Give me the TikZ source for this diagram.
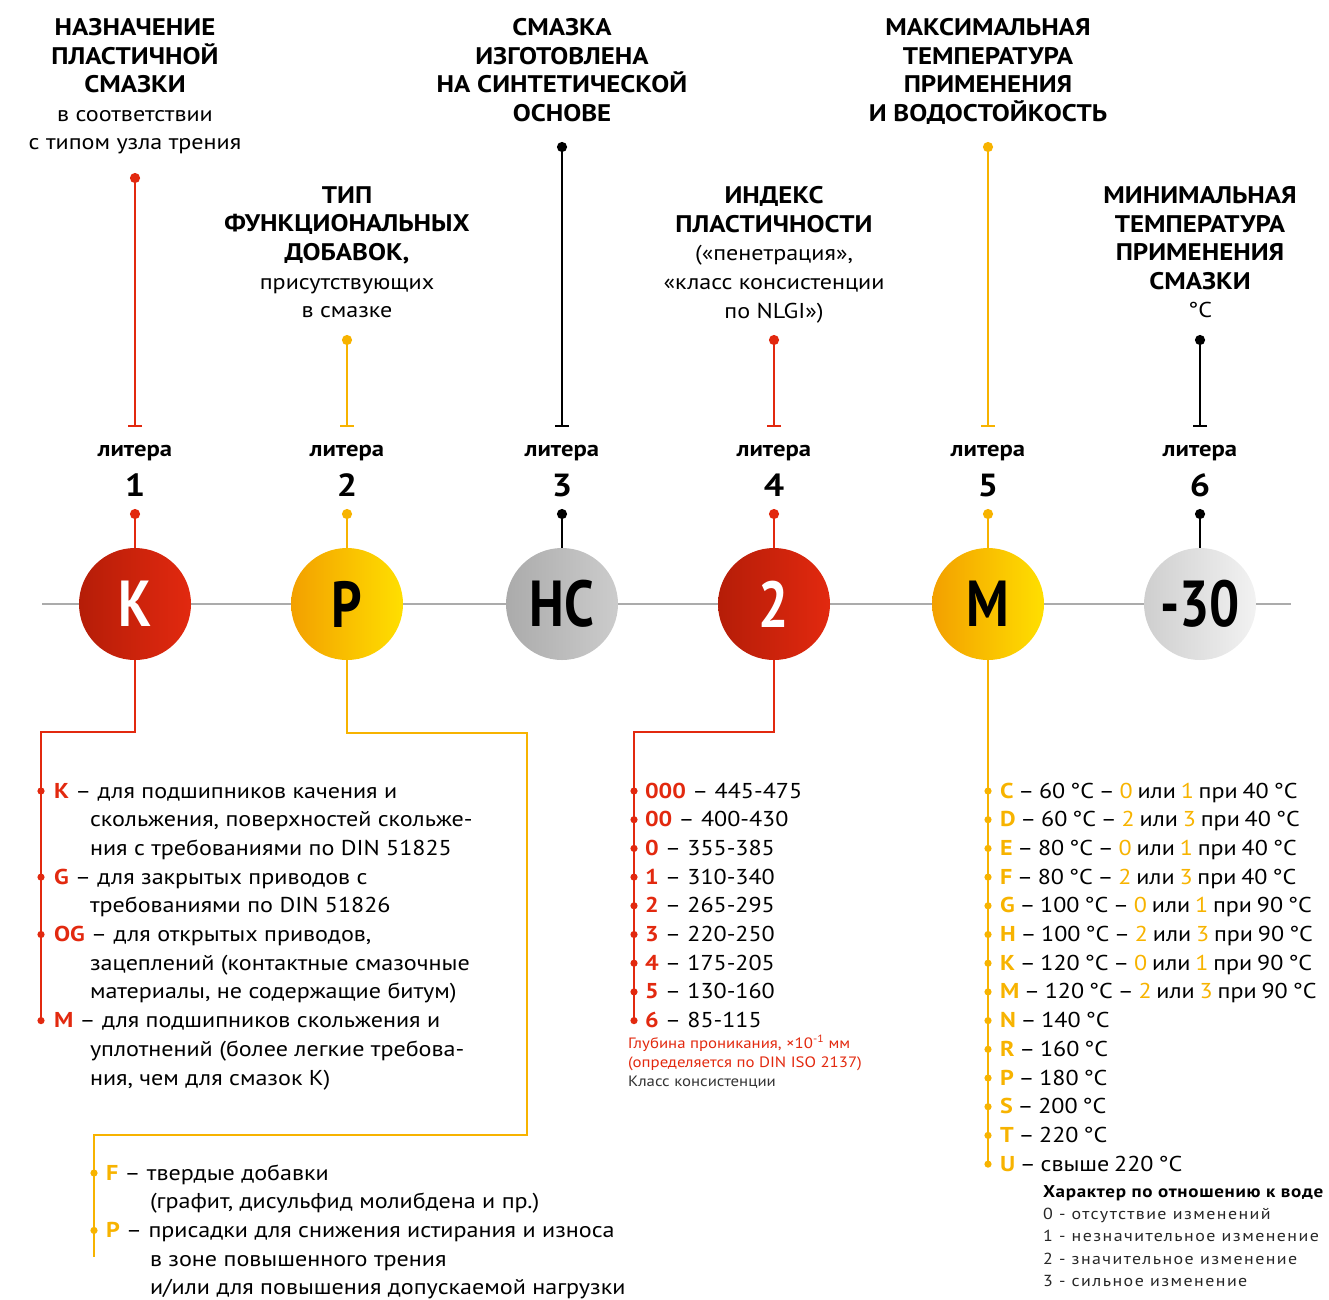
\documentclass[tikz,border=0pt]{standalone}
\usepackage{fontspec}
\setmainfont[FakeStretch=1.12]{PT Sans}
\newfontfamily\ballf[FakeStretch=0.82]{PT Sans}
\newfontfamily\tightf[FakeStretch=1.12, WordSpace=0.75]{PT Sans}
\usetikzlibrary{arrows.meta}
\definecolor{kred}{HTML}{E2290F}
\definecolor{kdred}{HTML}{B51D08}
\definecolor{kyel}{HTML}{F7B300}
\definecolor{kdyel}{HTML}{F3A000}
\definecolor{klyel}{HTML}{FFDF00}
\definecolor{kline}{HTML}{ABABAB}
\newcommand\lr[1]{\textcolor{kred}{\bfseries #1}}
\newcommand\ly[1]{\textcolor{kyel}{\bfseries #1}}
\newcommand\yd[1]{\textcolor{kyel}{#1}}
\newcommand\sub[1]{{\mdseries\fontsize{21.5}{28.6}\selectfont #1}}

\begin{document}
\begin{tikzpicture}[
  x=1pt, y=-1pt,
  every node/.style={inner sep=0pt, outer sep=0pt},
  head/.style={font=\bfseries\fontsize{24}{28.6}\selectfont, align=center, anchor=north},
  lit/.style={font=\bfseries\fontsize{22}{22}\selectfont, anchor=base},
  num/.style={font=\bfseries\fontsize{32}{32}\selectfont, anchor=base},
  ball/.style={circle, minimum size=112pt, font=\ballf\bfseries\fontsize{65}{65}\selectfont},
  stem/.style={line width=2.4pt, {Circle[length=10pt]}-{Bar[width=14pt]}},
  pin/.style={line width=2.4pt, {Circle[length=10pt]}-},
  wire/.style={line width=2.4pt},
  entry/.style={font=\fontsize{21.5}{21.5}\selectfont, anchor=base west},
  tight/.style={font=\tightf\fontsize{21.5}{21.5}\selectfont},
  note/.style={font=\fontsize{15}{15}\selectfont, anchor=base west},
]
  \useasboundingbox (0,0) rectangle (1329,1299);

  % headers
  \node[head] (h1) at (135,18.5) {НАЗНАЧЕНИЕ\\ПЛАСТИЧНОЙ\\СМАЗКИ\\\sub{в соответствии}\\\sub{с типом узла трения}};
  \node[head] (h2) at (347,186.5) {ТИП\\ФУНКЦИОНАЛЬНЫХ\\ДОБАВОК,\\\sub{присутствующих}\\\sub{в смазке}};
  \node[head] (h3) at (562,18.5) {СМАЗКА\\ИЗГОТОВЛЕНА\\НА СИНТЕТИЧЕСКОЙ\\ОСНОВЕ};
  \node[head] (h4) at (774,186.5) {ИНДЕКС\\ПЛАСТИЧНОСТИ\\\sub{(«пенетрация»,}\\\sub{«класс консистенции}\\\sub{по NLGI»)}};
  \node[head] (h5) at (988,18.5) {МАКСИМАЛЬНАЯ\\ТЕМПЕРАТУРА\\ПРИМЕНЕНИЯ\\И ВОДОСТОЙКОСТЬ};
  \node[head] (h6) at (1200,186.5) {МИНИМАЛЬНАЯ\\ТЕМПЕРАТУРА\\ПРИМЕНЕНИЯ\\СМАЗКИ\\\sub{°С}};

  % stems, letters and balls
  \draw[kline, line width=2.5pt] (42,604) coordinate (ax0) -- (1291,604) coordinate (ax1);
  \foreach \n/\x/\t/\c/\l/\r/\v/\f in {
      1/135/173/kred/kdred/kred/K/white,
      2/347/335/kyel/kdyel/klyel/P/black,
      3/562/142/black/black!33/black!20/HC/black,
      4/774/335/kred/kdred/kred/2/white,
      5/988/142/kyel/kdyel/klyel/M/black,
      6/1200/335/black/black!19/black!5/-30/black}{
    \coordinate (t\n) at (\x,\t);
    \coordinate (b\n) at (\x,427);
    \draw[stem, \c] (t\n) -- (b\n);
    \node[lit] (lt\n) at (\x,456) {литера};
    \node[num] (n\n) at (\x,496) {\n};
    \node[ball, left color=\l, right color=\r, text=\f] (c\n) at (\x,604) {\v};
    \coordinate (d\n) at (\x,509);
    \draw[pin, \c] (d\n) -- (c\n);
  }

  % letter 1
  \coordinate (l1) at (41,1021);
  \draw[wire, kred] (c1.south) -- ++(0,72) -| (l1);
  \foreach \r in {0,3,5,8}
    \fill[kred] (41,{791+28.7*\r}) circle (3.6pt);
  \foreach \r/\x/\t [count=\i] in {
      0/54/{\lr{K} – для подшипников качения и},
      1/90/{скольжения, поверхностей скольже-},
      2/90/{ния с требованиями по DIN 51825},
      3/54/{\lr{G} – для закрытых приводов с},
      4/90/{требованиями по DIN 51826},
      5/54/{\lr{OG} – для открытых приводов,},
      6/90/{зацеплений (контактные смазочные},
      7/90/{материалы, не содержащие битум)},
      8/54/{\lr{M} – для подшипников скольжения и},
      9/90/{уплотнений (более легкие требова-},
      10/90/{ния, чем для смазок K)}}
    \node[entry] (e1\i) at (\x,{798+28.7*\r}) {\t};

  % letter 2
  \coordinate (l2) at (94,1257);
  \draw[wire, kyel] (c2.south) -- ++(0,73) -| (527,1135) -| (l2);
  \foreach \r in {0,2}
    \fill[kyel] (94,{1173+28.7*\r}) circle (3.6pt);
  \foreach \r/\x/\t [count=\i] in {
      0/106/{\ly{F} – твердые добавки},
      1/150/{(графит, дисульфид молибдена и пр.)},
      2/106/{\ly{P} – присадки для снижения истирания и износа},
      3/150/{в зоне повышенного трения},
      4/150/{и/или для повышения допускаемой нагрузки}}
    \node[entry] (e2\i) at (\x,{1180+28.7*\r}) {\t};

  % letter 4
  \coordinate (l4) at (634,1020);
  \draw[wire, kred] (c4.south) -- ++(0,72) -| (l4);
  \foreach \k/\v [count=\i from 0] in {000/445-475, 00/400-430, 0/355-385, 1/310-340,
      2/265-295, 3/220-250, 4/175-205, 5/130-160, 6/85-115}{
    \fill[kred] (634,{791+28.7*\i}) circle (3.6pt);
    \node[entry] (e4\i) at (645,{798+28.7*\i}) {\lr{\k} – \v};
  }
  \node[note, text=kred] (g1) at (628,1048) {Глубина проникания, ×10\textsuperscript{-1} мм};
  \node[note, text=kred] (g2) at (628,1067) {(определяется по DIN ISO 2137)};
  \node[note, text=black!80] (g3) at (628,1086) {Класс консистенции};

  % letter 5
  \coordinate (l5) at (988,1164);
  \draw[wire, kyel] (c5.south) -- (l5);
  \foreach \k/\p/\a/\b/\q [count=\i from 0] in {C/60/0/1/40, D/60/2/3/40, E/80/0/1/40,
      F/80/2/3/40, G/100/0/1/90, H/100/2/3/90, K/120/0/1/90, M/120/2/3/90}{
    \fill[kyel] (988,{791+28.7*\i}) circle (3.6pt);
    \node[entry, tight] (e5\i) at (1000,{798+28.7*\i}) {\ly{\k} – \p~°C – \yd{\a} или \yd{\b} при \q~°C};
  }
  \foreach \k/\p [count=\i from 8] in {N/140~°C, R/160~°C, P/180~°C, S/200~°C,
      T/220~°C, U/свыше 220~°C}{
    \fill[kyel] (988,{791+28.7*\i}) circle (3.6pt);
    \node[entry, tight] (e5\i) at (1000,{798+28.7*\i}) {\ly{\k} – \p};
  }
  \node[note, font=\bfseries\fontsize{17}{17}\selectfont\addfontfeatures{LetterSpace=4}] (w0) at (1043,1197) {Характер по отношению к воде};
  \foreach \t [count=\i] in {0 - отсутствие изменений, 1 - незначительное изменение,
      2 - значительное изменение, 3 - сильное изменение}
    \node[note, font=\fontsize{16}{16}\selectfont\addfontfeatures{LetterSpace=9}, text=black!85] (w\i) at (1043,{1197+22.4*\i}) {\t};
\end{tikzpicture}
\end{document}
